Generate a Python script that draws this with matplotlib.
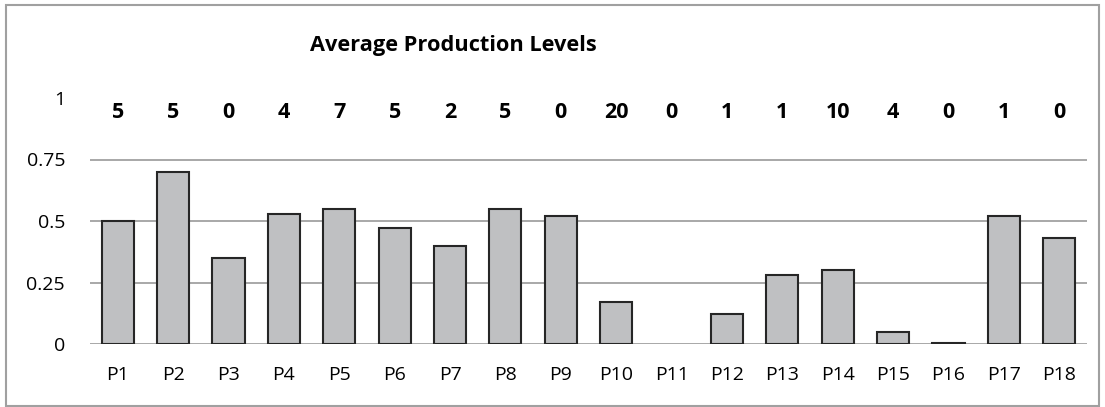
import matplotlib.pyplot as plt
from matplotlib.patches import Rectangle

# datos
products = ['P1', 'P2', 'P3', 'P4', 'P5', 'P6', 'P7', 'P8', 'P9', 'P10',
            'P11', 'P12', 'P13', 'P14', 'P15', 'P16', 'P17', 'P18']
avg_level = [0.50, 0.70, 0.35, 0.53, 0.55, 0.47, 0.40, 0.55, 0.52, 0.17,
             0.0, 0.12, 0.28, 0.30, 0.05, 0.005, 0.52, 0.43]
counts = [5, 5, 0, 4, 7, 5, 2, 5, 0, 20, 0, 1, 1, 10, 4, 0, 1, 0]
yticks = [0, 0.25, 0.5, 0.75, 1]

plt.rcParams['font.family'] = ['Open Sans', 'DejaVu Sans']

fig = plt.figure(figsize=(11.05, 4.07), dpi=100)
ax = fig.add_axes([90/1105, 63/407, 997/1105, 246/407])

x = range(len(products))
# sin borde cuando la barra vale cero
lw = [1.5 if v > 0 else 0 for v in avg_level]
ax.bar(x, avg_level, width=0.58, color='#bfc0c2', edgecolor='#262626', linewidth=lw, zorder=3)

# numero de muestras arriba de cada barra
for i, c in enumerate(counts):
    ax.text(i, 0.94, str(c), ha='center', va='center', fontsize=15.5, fontweight='bold', color='black')

ax.set_xlim(-0.5, len(products) - 0.5)
ax.set_ylim(0, 1)
ax.set_yticks(yticks)
ax.set_yticklabels(['0', '0.25', '0.5', '0.75', '1'])
ax.set_xticks(list(x))
ax.set_xticklabels(products)
ax.tick_params(axis='both', length=0, labelsize=14, colors='black')
ax.tick_params(axis='x', pad=16)
ax.tick_params(axis='y', pad=18)

for v in yticks[:-1]:
    ax.axhline(v, color='#9a9a9a', linewidth=1.2, zorder=1)
for s in ax.spines.values():
    s.set_visible(False)

fig.text(453/1105, 1 - 45/407, 'Average Production Levels', ha='center', va='center',
         fontsize=15.7, fontweight='bold')

# marco exterior
fig.patches.append(Rectangle((6/1105, 1/407), 1093/1105, 401/407, transform=fig.transFigure,
                             fill=False, edgecolor='#a0a0a0', linewidth=1.5))

fig.savefig('out.png', dpi=100)
